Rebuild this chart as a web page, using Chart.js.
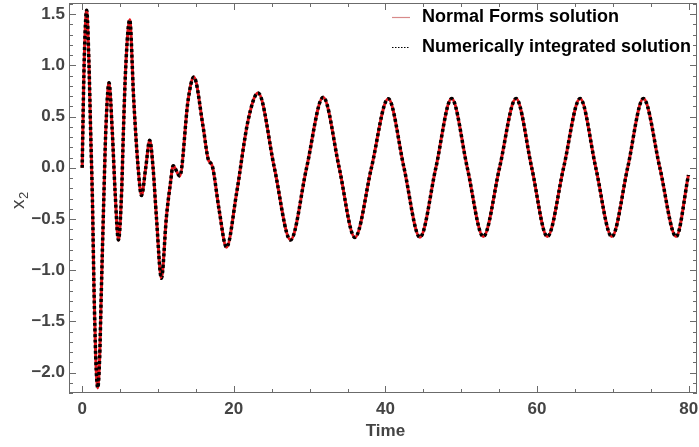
<!DOCTYPE html>
<html>
<head>
<meta charset="utf-8">
<script src="https://cdn.jsdelivr.net/npm/chart.js@4"></script>
<style>
  html, body { margin: 0; padding: 0; background: #fff; }
  #wrap { width: 699px; height: 447px; }
</style>
</head>
<body>
<div id="wrap"><canvas id="chart"></canvas></div>
<script>
// values (time, x2); both solutions lie on top of each other
const times = [0, 0.25, 0.59, 0.9, 1.12, 1.35, 1.56, 1.78, 2.05, 2.31, 2.53, 2.88, 3.1, 3.54, 3.98, 4.33, 4.78,
  5.21, 5.43, 5.74, 6.27, 6.8, 7.37, 7.82, 8.38, 8.91, 9.35, 9.79, 10.45, 11.11, 11.64, 11.99, 12.87, 13.97,
  14.72, 15.95, 16.6, 17.19, 18.06, 19.04, 20.36, 21.89, 23.21, 25.35, 27.48, 29.6, 31.79, 33.9, 35.97, 38.15,
  40.37, 42.45, 44.55, 46.65, 48.73, 50.8, 52.91, 55.05, 57.23, 59.3, 61.36, 63.5, 65.68, 67.75, 69.86, 71.95,
  74.03, 76.2, 78.35, 79.97];
const x2Normal = [0, 1.0, 1.54, 1.0, 0.34, -0.31, -1.19, -1.84, -2.15, -1.84, -1.19, -0.22, 0.34, 0.83, 0.34, -0.22, -0.705,
  -0.22, 0.34, 0.98, 1.446, 0.66, 0.01, -0.27, 0, 0.27, 0, -0.48, -1.08, -0.48, -0.15, 0.02, -0.08, 0.66,
  0.887, 0.4, 0.09, 0.01, -0.41, -0.776, -0.25, 0.465, 0.731, 0, -0.705, 0, 0.69, 0, -0.68, 0,
  0.675, 0, -0.678, 0, 0.676, 0, -0.672, 0, 0.676, 0, -0.672, 0, 0.676, 0, -0.672, 0,
  0.676, 0, -0.672, -0.07];
const x2Numeric = x2Normal.slice();

const xTicks = [0, 20, 40, 60, 80];
const yTicks = [-2, -1.5, -1, -0.5, 0, 0.5, 1, 1.5];
const seriesNames = ['Normal Forms solution', 'Numerically integrated solution'];

const axisGray = '#6b6b6b';
const textGray = '#444444';

function pts(ys) {
  return times.map((t, i) => ({ x: t, y: ys[i] }));
}

function noPad(s) {
  s.paddingLeft = 0; s.paddingRight = 0; s.paddingTop = 0; s.paddingBottom = 0;
}

const frameTicks = {
  id: 'frameTicks',
  afterDraw(chart) {
    const ctx = chart.ctx;
    const a = chart.chartArea;
    const xs = chart.scales.x, ys = chart.scales.y;
    ctx.save();
    ctx.strokeStyle = axisGray;
    ctx.lineWidth = 1;
    ctx.strokeRect(a.left + 0.5, a.top + 0.5, a.right - a.left - 1, a.bottom - a.top - 1);
    for (let v = 0; v <= 80; v += 5) {
      const px = Math.round(xs.getPixelForValue(v)) + 0.5;
      const len = v % 20 === 0 ? 7 : 4;
      ctx.beginPath();
      ctx.moveTo(px, a.bottom); ctx.lineTo(px, a.bottom - len);
      ctx.moveTo(px, a.top); ctx.lineTo(px, a.top + len);
      ctx.stroke();
    }
    for (let k = -22; k <= 16; k++) {
      const v = k / 10;
      const py = Math.round(ys.getPixelForValue(v)) + 0.5;
      const len = k % 5 === 0 ? 7 : 4;
      ctx.beginPath();
      ctx.moveTo(a.left, py); ctx.lineTo(a.left + len, py);
      ctx.moveTo(a.right, py); ctx.lineTo(a.right - len, py);
      ctx.stroke();
    }
    // axis titles
    ctx.fillStyle = textGray;
    ctx.font = 'bold 17px "Liberation Sans", Arial';
    ctx.textAlign = 'center';
    ctx.textBaseline = 'middle';
    ctx.fillText('Time', xs.getPixelForValue(40), 431);
    ctx.translate(19, 200);
    ctx.rotate(-Math.PI / 2);
    ctx.font = '19px "Liberation Sans", Arial';
    ctx.textAlign = 'left';
    ctx.fillText('x', -9, 0);
    ctx.font = '13px "Liberation Sans", Arial';
    ctx.fillText('2', 1, 5);
    ctx.restore();

    // legend
    ctx.save();
    ctx.font = 'bold 18px "Liberation Sans", Arial';
    ctx.textBaseline = 'middle';
    ctx.fillStyle = '#000';
    ctx.fillText(seriesNames[0], 422, 17);
    ctx.fillText(seriesNames[1], 422, 47);
    ctx.strokeStyle = '#d88a8a';
    ctx.lineWidth = 1.2;
    ctx.beginPath(); ctx.moveTo(392, 17.5); ctx.lineTo(410, 17.5); ctx.stroke();
    ctx.strokeStyle = '#000';
    ctx.setLineDash([1.5, 1.5]);
    ctx.beginPath(); ctx.moveTo(392, 47.5); ctx.lineTo(410, 47.5); ctx.stroke();
    ctx.restore();
  }
};

new Chart(document.getElementById('chart'), {
  type: 'scatter',
  data: {
    datasets: [
      {
        label: seriesNames[0],
        data: pts(x2Normal),
        showLine: true,
        borderColor: '#e8151b',
        borderWidth: 3,
        pointRadius: 0,
        order: 2,
        cubicInterpolationMode: 'monotone'
      },
      {
        label: seriesNames[1],
        data: pts(x2Numeric),
        showLine: true,
        borderColor: '#000000',
        borderWidth: 3.5,
        borderDash: [3, 2.6],
        pointRadius: 0,
        order: 1,
        cubicInterpolationMode: 'monotone'
      }
    ]
  },
  options: {
    responsive: true,
    maintainAspectRatio: false,
    animation: false,
    layout: { padding: { top: 3, right: 2, left: 0, bottom: 0 } },
    plugins: { legend: { display: false }, tooltip: { enabled: false } },
    scales: {
      x: {
        type: 'linear',
        min: -1.74,
        max: 81.1,
        afterFit: s => { s.height = 54; noPad(s); },
        afterBuildTicks: s => { s.ticks = xTicks.map(v => ({ value: v })); },
        grid: { display: false, drawTicks: false },
        border: { display: false },
        ticks: {
          padding: 6,
          maxRotation: 0,
          color: textGray,
          font: { family: '"Liberation Sans", Arial', size: 17, weight: 'bold' },
          callback: v => String(v)
        }
      },
      y: {
        min: -2.2,
        max: 1.61,
        afterFit: s => { s.width = 69; noPad(s); },
        afterBuildTicks: s => { s.ticks = yTicks.map(v => ({ value: v })); },
        grid: { display: false, drawTicks: false },
        border: { display: false },
        ticks: {
          padding: 4,
          color: textGray,
          font: { family: '"Liberation Sans", Arial', size: 17, weight: 'bold' },
          callback: v => (v < 0 ? '\u2212' : '') + Math.abs(v).toFixed(1)
        }
      }
    }
  },
  plugins: [frameTicks]
});
</script>
</body>
</html>
